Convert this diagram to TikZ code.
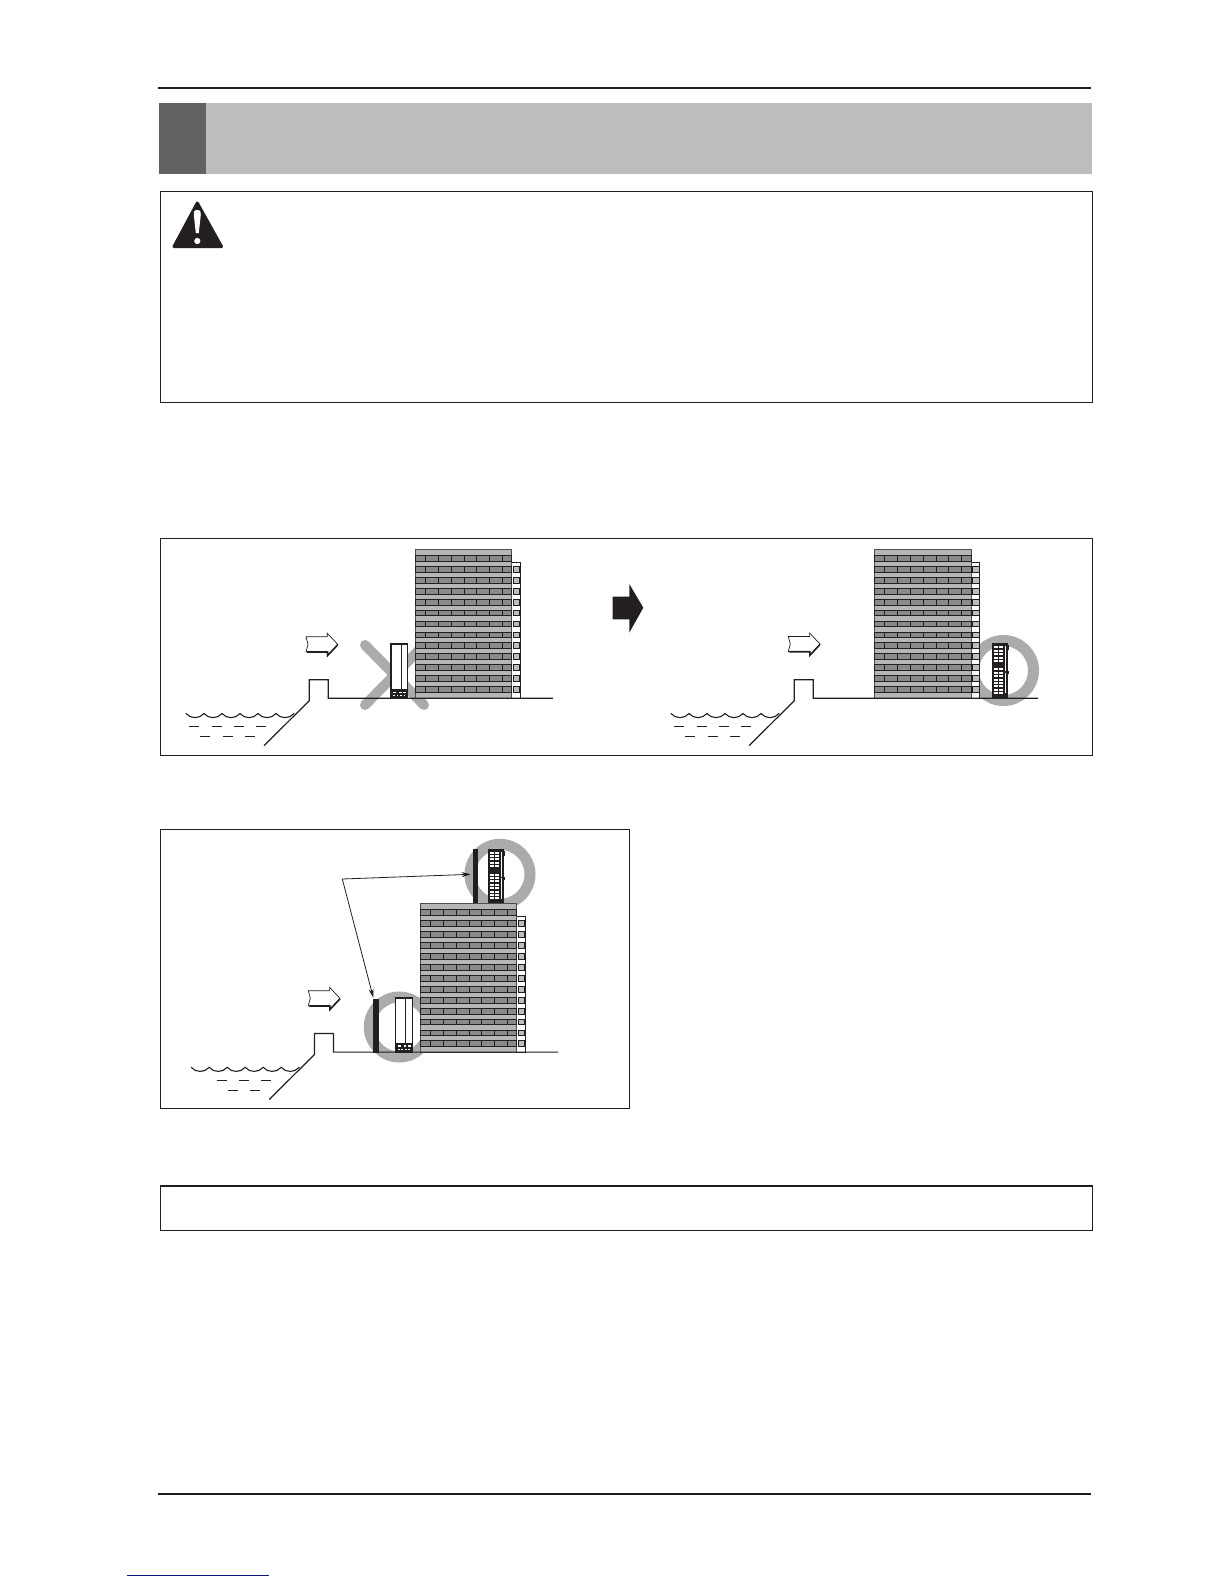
\documentclass[tikz,border=0pt]{standalone}
\usetikzlibrary{arrows.meta}
\definecolor{ink}{HTML}{231F20}
\definecolor{headgrey}{HTML}{BDBDBD}
\definecolor{headdark}{HTML}{636262}
\definecolor{wallgrey}{HTML}{B6B6B6}
\definecolor{brickgrey}{HTML}{8A8A8A}
\definecolor{markgrey}{HTML}{ABABAB}
\definecolor{linkblue}{HTML}{10148C}
\tikzset{
  frame/.style={draw=ink,line width=1.1pt,fill=white},
  rule/.style={draw=ink,line width=2pt},
  groundline/.style={draw=ink,line width=1.2pt,line join=miter},
  wall/.style={draw=ink!80,line width=.6pt,fill=wallgrey},
  brick/.style={draw=ink,line width=.55pt,fill=brickgrey},
  pane/.style={draw=ink,line width=.55pt,fill=wallgrey!90},
  ring/.style={draw=markgrey,line width=11pt},
  crossbar/.style={draw=markgrey,line width=10pt,line cap=round},
  barrier/.style={fill=ink,draw=none},
  wave/.style={draw=ink,line width=1.1pt,line cap=round},
  ripple/.style={draw=ink,line width=.7pt},
  pointer/.style={draw=ink,line width=.8pt,-{Stealth[length=9pt,width=5pt]}}
}
% building: origin at top-left of the block, 96.3 wide, 149.3 high
\newcommand{\tower}[2]{%
\begin{scope}[shift={(#1,#2)}]
  \draw[draw=ink,line width=.8pt,fill=white] (96.3,13) rectangle (105.3,149.3);
  \fill[wall] (0,0) rectangle (96.3,149.3);
  \foreach \i in {0,...,12}{
    \pgfmathsetmacro{\ry}{6.3+10.93*\i}
    \foreach \a/\b in {0/10,10/23,23/36.2,36.2/48.6,48.6/61.4,61.4/74.2,74.2/87,87/96.3}
      \draw[brick] (\a,\ry) rectangle (\b,\ry+5.8);
  }
  \foreach \i in {1,...,12}{
    \pgfmathsetmacro{\ry}{6.3+10.93*\i}
    \draw[pane] (98,\ry) rectangle (104.4,\ry+5.8);
  }
\end{scope}}
% shore, pier, ground, waves
\newcommand{\shore}[3]{%
\begin{scope}[shift={(#1,#2)}]
  \draw[groundline] (264,745.7) -- (309.3,700.7) -- (309.3,679.7) -- (328.3,679.7) -- (328.3,698.3) -- (#3,698.3);
  \foreach \k in {0,...,5}{
    \pgfmathsetmacro{\wa}{186+18*\k}
    \pgfmathsetmacro{\wb}{\wa+4.5}
    \pgfmathsetmacro{\wc}{\wa+13.5}
    \pgfmathsetmacro{\wd}{\wa+18}
    \draw[wave] (\wa,713.5) .. controls (\wb,719) and (\wc,719) .. (\wd,713.5);
  }
\end{scope}}
\newcommand{\ripplesfour}[1]{%
\begin{scope}[shift={(#1,0)}]
  \foreach \a in {189,211.7,234,256.3} \draw[ripple] (\a,726.2) -- +(10,0);
  \foreach \a in {200,223.3,245} \draw[ripple] (\a,736.3) -- +(10,0);
\end{scope}}
% wind arrow, placed by its upper-left tail corner
\newcommand{\gust}[2]{%
\begin{scope}[shift={(#1,#2)}]
  \draw[draw=ink,line width=.7pt,fill=white,line join=miter]
    (0,3.4) -- (21.3,3.4) -- (21.3,0) -- (31.7,11) -- (21.3,22.7) -- (21.3,18.4) -- (0,18.4) -- (2,11) -- cycle;
  \draw[draw=ink,line width=1.6pt] (1,18.7) -- (21.6,18.7) -- (21.6,22.2) -- (31.7,11.5);
\end{scope}}
% light unit: origin top-left, 16.6 x 54.5
\newcommand{\lightunit}[2]{%
\begin{scope}[shift={(#1,#2)}]
  \draw[draw=ink,line width=1.5pt,fill=white] (0,.5) rectangle (16.6,54.5);
  \draw[draw=ink,line width=.7pt] (10,.5) -- (10,46);
  \fill[ink] (0,45.5) rectangle (16.6,54.5);
  \foreach \a in {2,5.5,9,12.5}
    \fill[white] (\a,51) rectangle +(1.8,1.5);
  \foreach \a in {2.2,8,12.2}
    \fill[white] (\a,47.8) rectangle +(2.6,1.3);
\end{scope}}
% dark unit: origin top-left, 16.6 x 54.5
\newcommand{\darkunit}[2]{%
\begin{scope}[shift={(#1,#2)}]
  \fill[ink] (0,0) rectangle (16.6,54.5);
  \fill[ink] (16.6,2) rectangle (17.6,7);
  \fill[ink] (16.6,28) rectangle (17.6,31);
  \foreach \i in {0,...,4}{
    \fill[white] (2.7,3+3.4*\i) rectangle +(4,2);
    \fill[white] (7.7,3+3.4*\i) rectangle +(4,2);
  }
  \foreach \i in {0,...,7}{
    \fill[white] (2.7,25+3.4*\i) rectangle +(4,2);
    \fill[white] (7.7,25+3.4*\i) rectangle +(4,2);
  }
  \fill[white] (12.9,3) rectangle (14.2,28);
  \fill[white] (12.9,29.5) rectangle (14.2,50);
\end{scope}}
\begin{document}
\begin{tikzpicture}[x=1pt,y=-1pt]
\useasboundingbox (0,0) rectangle (1224,1584);
\fill[white] (0,0) rectangle (1224,1584);

% page rules and heading
\draw[rule] (158,87.7) -- (1091,87.7);
\draw[rule] (158,1493.7) -- (1091,1493.7);
\fill[headgrey] (159,102.7) rectangle (1092,174);
\fill[headdark] (159,102.7) rectangle (206,174);
\draw[draw=linkblue,line width=.9pt] (127,1575.3) -- (269,1575.3);

% caution box
\draw[frame] (160.3,191.7) rectangle (1092.7,402.7);
\draw[fill=ink,draw=ink,line width=3pt,line join=round] (197.3,203) -- (221.5,246.5) -- (174,246.5) -- cycle;
\fill[white] (197.3,210) .. controls (194.2,210) and (193.4,212) .. (193.8,215) -- (195.8,233) -- (198.8,233) -- (200.8,215) .. controls (201.2,212) and (200.4,210) .. (197.3,210) -- cycle;
\fill[white] (197.3,241) circle (3.1);

% panel frames
\draw[frame] (160.3,538.3) rectangle (1092.7,755.4);
\draw[frame] (160.3,829.4) rectangle (629.6,1108.5);
\draw[frame] (160.3,1186) rectangle (1092.7,1230.5);

% panel 1: wrong
\draw[crossbar] (365,645) -- (424,705);
\draw[crossbar] (365,705) -- (424,645);
\tower{415.3}{549}
\shore{0}{0}{553}
\ripplesfour{0}
\gust{306}{633.3}
\lightunit{391}{643.7}

% centre arrow
\fill[ink] (612.7,596.7) -- (629.3,596.7) -- (629.3,584) -- (643.3,607.7) -- (629.3,632.7) -- (629.3,619.3) -- (612.7,619.3) -- cycle;

% panel 2: right
\draw[ring] (1003.5,670.5) circle (30);
\tower{874.5}{549}
\shore{485}{0}{553}
\ripplesfour{485}
\gust{788.3}{633}
\darkunit{991.7}{643.3}

% panel 3: barrier
\draw[ring] (399.3,1027) circle (30);
\draw[ring] (500,874.3) circle (30);
\tower{420.3}{903.3}
\shore{5.2}{353.8}{553}
\foreach \a in {216.7,239,261} \draw[ripple] (\a,1080) -- +(10,0);
\foreach \a in {227.7,250} \draw[ripple] (\a,1090) -- +(10,0);
\gust{308.3}{987.3}
\lightunit{395.7}{997.5}
\darkunit{487.7}{848.5}
\fill[barrier] (373,999) rectangle (379,1052.6);
\fill[barrier] (473,849) rectangle (478,903.3);
\coordinate (bend) at (342.3,879);
\coordinate (uppertip) at (470.7,874.3);
\coordinate (lowertip) at (373.3,997.7);
\draw[pointer] (bend) -- (uppertip);
\draw[pointer] (bend) -- (lowertip);
\end{tikzpicture}
\end{document}
